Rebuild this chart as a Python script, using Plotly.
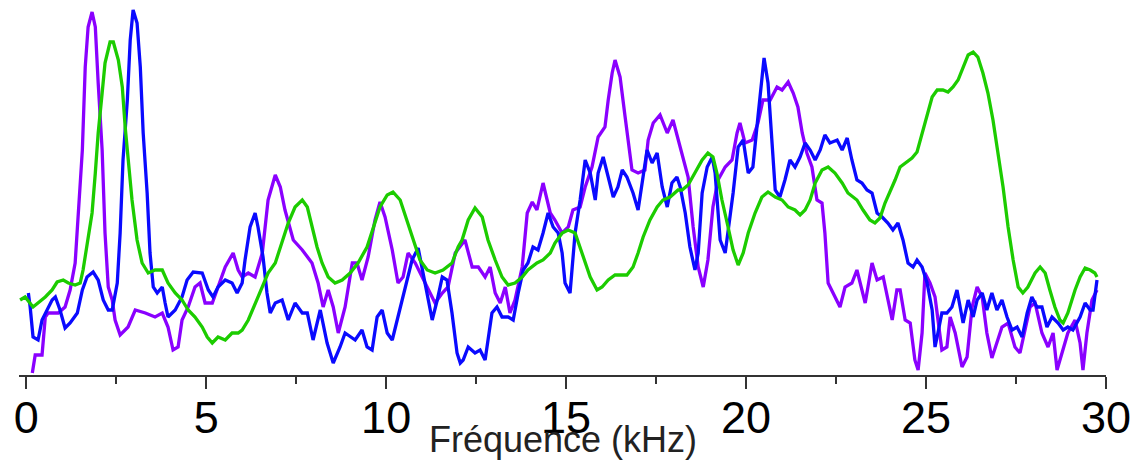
import plotly.graph_objects as go

# ---- data (frequency in kHz, amplitude in arbitrary units) ----
freq_purple = [0.17,0.25,0.44,0.53,0.61,0.89,1.08,1.22,1.36,1.44,
               1.56,1.64,1.72,1.83,1.92,2.00,2.11,2.19,2.28,2.39,
               2.47,2.61,2.83,3.03,3.31,3.58,3.78,3.94,4.08,4.22,
               4.33,4.50,4.69,4.83,4.97,5.17,5.33,5.53,5.75,5.89,
               6.00,6.17,6.36,6.56,6.72,6.92,7.06,7.19,7.42,7.67,
               7.94,8.11,8.25,8.39,8.53,8.67,8.86,9.06,9.19,9.33,
               9.50,9.69,9.83,9.97,10.17,10.33,10.47,10.61,10.81,11.00,
               11.17,11.36,11.56,11.72,11.92,12.19,12.39,12.56,12.75,12.89,
               13.03,13.17,13.31,13.44,13.58,13.78,13.92,14.06,14.19,14.36,
               14.56,14.69,14.89,15.06,15.19,15.39,15.53,15.72,15.89,16.08,
               16.17,16.28,16.36,16.50,16.64,16.72,16.83,17.00,17.19,17.28,
               17.42,17.61,17.81,17.97,18.11,18.22,18.39,18.53,18.67,18.81,
               18.94,19.08,19.22,19.42,19.61,19.75,19.83,19.97,20.17,20.33,
               20.47,20.67,20.86,21.00,21.17,21.31,21.44,21.56,21.69,21.83,
               21.97,22.11,22.19,22.28,22.42,22.61,22.75,22.94,23.08,23.22,
               23.31,23.50,23.64,23.81,23.94,24.06,24.19,24.28,24.42,24.56,
               24.69,24.78,24.89,24.97,25.11,25.25,25.44,25.58,25.67,25.81,
               26.00,26.14,26.28,26.42,26.56,26.69,26.83,26.97,27.11,27.28,
               27.47,27.61,27.75,27.89,28.03,28.22,28.39,28.53,28.64,28.78,
               28.94,29.14,29.28,29.36,29.47,29.61,29.75]
amp_purple = [2,20,20,58,62,62,68,85,112,158,
              225,308,348,363,348,292,225,142,88,75,
              55,40,48,65,62,58,62,48,25,28,
              55,68,88,92,72,72,88,108,122,105,
              98,102,98,122,175,200,188,165,135,125,
              112,92,68,85,68,42,68,112,112,95,
              118,155,173,158,125,92,98,122,112,98,
              85,72,82,88,122,135,108,108,98,108,
              82,72,88,62,75,108,162,173,165,192,
              162,155,142,148,165,168,188,208,238,248,
              275,302,315,298,258,235,205,202,205,235,
              252,260,242,255,235,222,198,148,108,88,
              115,168,195,208,215,242,252,232,235,252,
              275,275,288,285,293,282,268,242,222,208,
              175,172,142,92,82,68,88,92,105,85,
              72,112,95,98,75,55,85,85,55,52,
              15,5,42,102,92,78,25,28,58,42,
              8,18,68,88,78,42,17,32,48,52,
              28,22,45,68,72,42,28,42,5,22,
              42,55,32,5,42,75,85]

freq_blue = [0.06,0.11,0.19,0.33,0.44,0.58,0.72,0.81,0.94,1.08,
             1.22,1.42,1.56,1.69,1.86,2.00,2.14,2.28,2.39,2.53,
             2.61,2.69,2.81,2.89,2.97,3.08,3.17,3.25,3.36,3.44,
             3.53,3.64,3.78,3.86,3.94,4.14,4.33,4.47,4.64,4.89,
             5.06,5.19,5.33,5.53,5.72,5.86,6.00,6.08,6.22,6.36,
             6.44,6.58,6.69,6.78,6.92,7.11,7.28,7.47,7.67,7.81,
             7.97,8.17,8.36,8.53,8.72,8.86,9.14,9.33,9.47,9.61,
             9.75,9.89,10.03,10.17,10.33,10.53,10.72,10.89,11.03,11.17,
             11.28,11.42,11.56,11.69,11.83,11.97,12.06,12.14,12.28,12.47,
             12.61,12.75,12.83,12.94,13.08,13.22,13.39,13.53,13.67,13.81,
             13.94,14.08,14.22,14.36,14.50,14.64,14.78,14.89,14.97,15.11,
             15.17,15.25,15.39,15.53,15.67,15.81,15.89,16.03,16.17,16.31,
             16.44,16.56,16.69,16.86,17.00,17.14,17.25,17.39,17.53,17.67,
             17.81,17.94,18.08,18.17,18.31,18.44,18.58,18.67,18.78,18.92,
             19.06,19.14,19.28,19.42,19.50,19.64,19.78,19.92,20.06,20.19,
             20.33,20.44,20.50,20.61,20.72,20.81,20.94,21.08,21.22,21.36,
             21.50,21.64,21.78,21.92,22.06,22.19,22.33,22.53,22.67,22.81,
             22.94,23.08,23.22,23.36,23.50,23.64,23.78,23.94,24.08,24.22,
             24.36,24.50,24.64,24.75,24.89,25.03,25.17,25.25,25.33,25.44,
             25.58,25.72,25.86,25.94,26.03,26.17,26.31,26.42,26.56,26.69,
             26.83,26.97,27.11,27.25,27.39,27.53,27.67,27.81,27.94,28.08,
             28.22,28.36,28.50,28.67,28.81,28.94,29.08,29.28,29.42,29.56,
             29.64,29.75]
amp_blue = [82,68,38,35,55,65,75,78,65,47,
            52,62,85,98,103,95,75,65,65,92,
            142,215,275,335,365,352,308,242,182,122,
            88,82,88,72,58,65,78,95,103,102,
            85,78,88,95,92,82,92,115,148,162,
            148,118,82,62,72,75,55,72,62,62,
            35,65,32,12,28,42,35,45,28,25,
            58,65,42,35,58,85,115,127,102,75,
            55,75,98,95,62,22,12,15,28,22,
            25,15,35,62,68,58,58,55,82,105,
            112,128,125,142,162,148,142,122,92,82,
            108,142,175,215,202,175,202,218,198,178,
            188,205,198,182,165,202,225,212,222,188,
            168,192,198,188,162,128,105,122,182,208,
            218,202,135,122,142,182,228,235,202,208,
            258,292,317,292,235,185,178,195,215,208,
            218,232,225,215,225,240,232,235,225,237,
            215,195,192,185,182,162,158,152,145,152,
            135,112,108,115,108,92,65,28,42,62,
            62,68,85,68,52,75,58,75,82,65,
            82,65,75,58,45,48,38,62,78,68,
            68,48,58,52,45,48,45,58,72,65,
            65,95]

freq_green = [-0.17,-0.03,0.19,0.33,0.53,0.72,0.86,1.03,1.17,1.36,
              1.50,1.58,1.69,1.83,1.92,2.00,2.11,2.19,2.33,2.42,
              2.56,2.67,2.75,2.83,2.94,3.08,3.22,3.39,3.58,3.78,
              3.94,4.14,4.33,4.50,4.69,4.89,5.03,5.17,5.33,5.53,
              5.72,5.89,6.00,6.17,6.36,6.56,6.72,6.92,7.11,7.28,
              7.47,7.67,7.81,7.94,8.08,8.22,8.39,8.58,8.78,9.00,
              9.22,9.47,9.64,9.83,10.03,10.19,10.39,10.58,10.75,10.94,
              11.14,11.36,11.58,11.83,12.00,12.11,12.28,12.47,12.67,12.83,
              13.03,13.22,13.39,13.58,13.78,13.94,14.19,14.36,14.56,14.69,
              14.89,15.06,15.25,15.39,15.53,15.67,15.86,16.00,16.17,16.36,
              16.69,16.86,17.00,17.14,17.33,17.53,17.69,17.89,18.11,18.22,
              18.39,18.58,18.78,18.94,19.08,19.19,19.33,19.50,19.64,19.78,
              19.92,20.06,20.25,20.44,20.61,20.81,21.00,21.17,21.36,21.50,
              21.64,21.78,21.92,22.11,22.28,22.47,22.67,22.83,23.08,23.25,
              23.44,23.58,23.72,23.86,24.06,24.14,24.28,24.42,24.61,24.75,
              24.89,25.03,25.17,25.31,25.47,25.61,25.75,25.89,26.03,26.17,
              26.31,26.44,26.58,26.72,26.86,27.00,27.14,27.28,27.42,27.56,
              27.69,27.83,28.03,28.17,28.31,28.44,28.58,28.72,28.81,28.94,
              29.14,29.28,29.42,29.56,29.69,29.75]
amp_green = [75,78,68,72,78,85,93,95,92,90,
             92,105,128,162,202,242,282,312,333,333,
             315,288,248,215,175,135,112,102,105,105,
             92,82,75,65,58,48,38,32,38,35,
             42,42,45,55,72,88,102,112,132,152,
             168,175,168,148,128,112,98,92,95,102,
             112,128,148,168,180,183,175,155,135,115,
             105,102,105,112,128,135,155,167,158,135,
             115,98,90,92,98,105,112,115,122,132,
             142,145,142,128,112,98,85,88,95,100,
             100,108,122,138,155,168,175,178,185,185,
             190,202,215,222,218,202,175,148,125,110,
             122,142,162,178,183,178,175,168,165,160,
             165,175,192,205,208,202,192,182,175,165,
             155,152,157,172,188,195,208,212,217,223,
             242,262,278,285,285,283,288,295,308,320,
             323,318,302,282,255,222,188,148,115,88,
             82,88,102,108,102,85,68,55,52,62,
             85,98,107,105,102,98]

x_ticks = [0, 5, 10, 15, 20, 25, 30]
x_minor_ticks = [2.5, 7.5, 12.5, 17.5, 22.5, 27.5]
x_title = "Fréquence (kHz)"

series = [
    ("Série violette", freq_purple, amp_purple, "#8a00ff"),
    ("Série bleue", freq_blue, amp_blue, "#0a0aff"),
    ("Série verte", freq_green, amp_green, "#1ccc00"),
]

fig = go.Figure()
for name, fx, ay, col in series:
    fig.add_trace(go.Scatter(x=fx, y=ay, mode="lines", name=name,
                             line=dict(color=col, width=3.3),
                             showlegend=False))

font_family = "Liberation Sans, Arial, sans-serif"
fig.update_layout(
    width=1138, height=468,
    margin=dict(l=19, r=32, t=0, b=93, pad=0),
    paper_bgcolor="white", plot_bgcolor="white",
    font=dict(family=font_family, color="black"),
    xaxis=dict(
        range=[-0.2, 30], showgrid=False, zeroline=False,
        showline=True, linecolor="#333", linewidth=2,
        tickmode="array", tickvals=x_ticks, ticktext=[str(v) for v in x_ticks],
        ticks="outside", ticklen=12, tickwidth=2, tickcolor="#333",
        ticklabelstandoff=-10,
        minor=dict(ticks="outside", ticklen=7, tickwidth=2, tickcolor="#333",
                   tickmode="array", tickvals=x_minor_ticks),
        tickfont=dict(size=45, color="black", family=font_family),
    ),
    yaxis=dict(range=[0, 375], visible=False),
    annotations=[dict(text=x_title, xref="paper", yref="paper", x=0.5, y=0,
                      xanchor="center", yanchor="top", yshift=-42,
                      showarrow=False,
                      font=dict(size=36, color="#222", family=font_family))],
)

fig.write_html("out.html")
